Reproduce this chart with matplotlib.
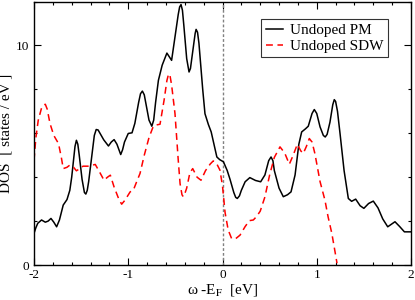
import matplotlib
matplotlib.use("Agg")
import matplotlib.pyplot as plt
from matplotlib.ticker import MultipleLocator

plt.rcParams['font.family'] = ['Liberation Serif', 'DejaVu Serif']
plt.rcParams['mathtext.fontset'] = 'stix'
plt.rcParams['axes.unicode_minus'] = False

pm_x = [-2.00, -1.98, -1.96, -1.92, -1.88, -1.85, -1.82, -1.79, -1.76, -1.73, -1.69, -1.65, -1.62, -1.60, -1.58,
        -1.565, -1.55, -1.535, -1.52, -1.49, -1.465, -1.45, -1.435, -1.42, -1.38, -1.36, -1.34, -1.32, -1.30, -1.26, -1.21, -1.18, -1.15, -1.12, -1.08,
        -1.06, -1.04, -1.00, -0.96, -0.93, -0.89, -0.87, -0.85, -0.83, -0.81, -0.78, -0.75, -0.73, -0.71, -0.68, -0.64, -0.59,
        -0.54, -0.50, -0.47, -0.455, -0.44, -0.425, -0.41, -0.38, -0.355, -0.34, -0.32, -0.29, -0.28, -0.265, -0.25, -0.21, -0.186, -0.15,
        -0.12, -0.09, -0.06, -0.03, 0.01, 0.05, 0.08, 0.12, 0.14, 0.157, 0.18, 0.20, 0.24, 0.29, 0.35, 0.405,
        0.45, 0.49, 0.515, 0.535, 0.55, 0.60, 0.645, 0.69, 0.727, 0.77, 0.81, 0.84, 0.88, 0.91, 0.95, 0.974,
        1.00, 1.035, 1.07, 1.09, 1.11, 1.14, 1.17, 1.186, 1.20, 1.22, 1.247, 1.29, 1.335, 1.37, 1.413, 1.46, 1.50, 1.55,
        1.60, 1.65, 1.70, 1.753, 1.79, 1.83, 1.88, 1.93, 2.00]
pm_y = [1.44, 1.70, 1.90, 2.05, 1.95, 2.00, 2.12, 1.95, 1.74, 2.05, 2.73, 2.98, 3.40, 4.00, 4.80,
        5.40, 5.68, 5.50, 5.00, 3.90, 3.30, 3.23, 3.40, 3.80, 5.20, 5.90, 6.17, 6.15, 6.00, 5.70, 5.42, 5.60, 5.71, 5.50, 5.03,
        5.25, 5.60, 5.99, 6.02, 6.45, 7.40, 7.80, 7.92, 7.75, 7.30, 6.60, 6.32, 6.60, 7.40, 8.41, 9.10, 9.65,
        9.32, 10.50, 11.40, 11.75, 11.86, 11.60, 10.90, 9.40, 8.79, 8.95, 9.60, 10.55, 10.73, 10.60, 10.10, 8.00, 6.89, 6.40,
        6.06, 5.50, 4.92, 4.80, 4.70, 4.30, 3.90, 3.30, 3.08, 3.03, 3.15, 3.40, 3.79, 3.98, 3.85, 3.79,
        4.10, 4.75, 4.92, 4.75, 4.30, 3.50, 3.11, 3.20, 3.33, 4.10, 5.50, 6.06, 6.20, 6.32, 6.90, 7.08,
        6.90, 6.29, 5.90, 5.83, 5.95, 6.50, 7.30, 7.53, 7.45, 7.00, 5.99, 4.30, 3.03, 2.90, 3.00, 2.70, 2.58, 2.80,
        2.91, 2.60, 2.10, 1.74, 1.85, 1.97, 1.75, 1.51, 1.51]

sdw_x = [-2.00, -1.98, -1.955, -1.92, -1.90, -1.88, -1.86, -1.83, -1.79, -1.74, -1.71, -1.69, -1.65, -1.62,
         -1.58, -1.55, -1.51, -1.48, -1.42, -1.35, -1.30, -1.257, -1.22, -1.19, -1.15, -1.10, -1.07,
         -1.035, -0.98, -0.946, -0.91, -0.875, -0.83, -0.78, -0.734, -0.70, -0.663, -0.62, -0.59, -0.575, -0.56,
         -0.54, -0.504, -0.47, -0.45, -0.43, -0.416, -0.40, -0.38, -0.346, -0.316, -0.27, -0.228, -0.18, -0.13,
         -0.098, -0.06, -0.027, 0.00, 0.027, 0.06, 0.097, 0.14, 0.186, 0.24, 0.285, 0.327, 0.36,
         0.40, 0.45, 0.50, 0.55, 0.61, 0.66, 0.709, 0.75, 0.794, 0.83, 0.857, 0.89, 0.921, 0.95,
         0.98, 1.035, 1.087, 1.12, 1.16, 1.19, 1.215]
sdw_y = [4.77, 5.80, 6.59, 7.15, 7.28, 7.32, 7.10, 6.44, 5.90, 5.53, 4.90, 4.39, 4.45, 4.55,
         4.45, 4.29, 4.40, 4.50, 4.50, 4.58, 4.20, 3.86, 4.00, 4.09, 3.55, 3.00, 2.77,
         2.95, 3.33, 3.41, 3.80, 4.17, 5.00, 5.80, 6.32, 6.38, 6.41, 7.50, 8.40, 8.65, 8.70,
         8.20, 6.89, 4.80, 3.70, 3.20, 3.11, 3.25, 3.50, 4.20, 4.39, 4.00, 3.86, 4.30, 4.60,
         4.74, 4.60, 4.32, 3.60, 2.40, 1.60, 1.20, 1.20, 1.36, 1.75, 2.02, 2.05, 2.20,
         2.45, 3.10, 4.10, 4.90, 5.38, 5.10, 4.59, 5.00, 5.50, 5.20, 5.08, 5.40, 5.76, 5.60,
         5.08, 3.80, 2.95, 2.20, 1.44, 0.70, 0.08]

labels = ["Undoped PM", "Undoped SDW"]

fig = plt.figure(figsize=(4.15, 3.0), dpi=100)
ax = fig.add_axes([34/415, 35/300, 377/415, 263.5/300])

ax.axvline(0, color='#808080', lw=1.0, ls=(0, (2, 1.5)))
ax.plot(pm_x, pm_y, color='black', lw=1.1, label=labels[0])
ax.plot(sdw_x, sdw_y, color='red', lw=1.1, ls=(0, (4.5, 3)), label=labels[1])

ax.set_xlim(-2, 2)
ax.set_ylim(0, 12)
ax.xaxis.set_major_locator(MultipleLocator(1))
ax.xaxis.set_minor_locator(MultipleLocator(0.2))
ax.yaxis.set_major_locator(MultipleLocator(10))
ax.yaxis.set_minor_locator(MultipleLocator(2))
ax.tick_params(which='both', direction='in', top=True, right=True, labelsize=9.5, width=0.8)
ax.tick_params(which='major', length=5)
ax.tick_params(which='minor', length=2.5)
ax.tick_params(axis='x', which='major', pad=3)
ax.tick_params(axis='y', which='major', pad=3.5)
for s in ax.spines.values():
    s.set_linewidth(1.0)

ax.set_xlabel(r'ω -E$_\mathrm{F}$  [eV]', fontsize=11, va='top')
ax.xaxis.set_label_coords(0.5, -0.065)
ax.set_ylabel('DOS  [ states / eV ]', fontsize=11)
ax.yaxis.set_label_coords(-0.058, 0.5)

leg = ax.legend(loc='upper right', bbox_to_anchor=(0.94, 0.935), fontsize=11,
                frameon=True, fancybox=False, handlelength=1.1, handletextpad=0.5,
                borderpad=0.3, labelspacing=0.15, borderaxespad=0)
leg.get_frame().set_edgecolor('black')
leg.get_frame().set_linewidth(0.8)

fig.savefig('out.png', dpi=100)
